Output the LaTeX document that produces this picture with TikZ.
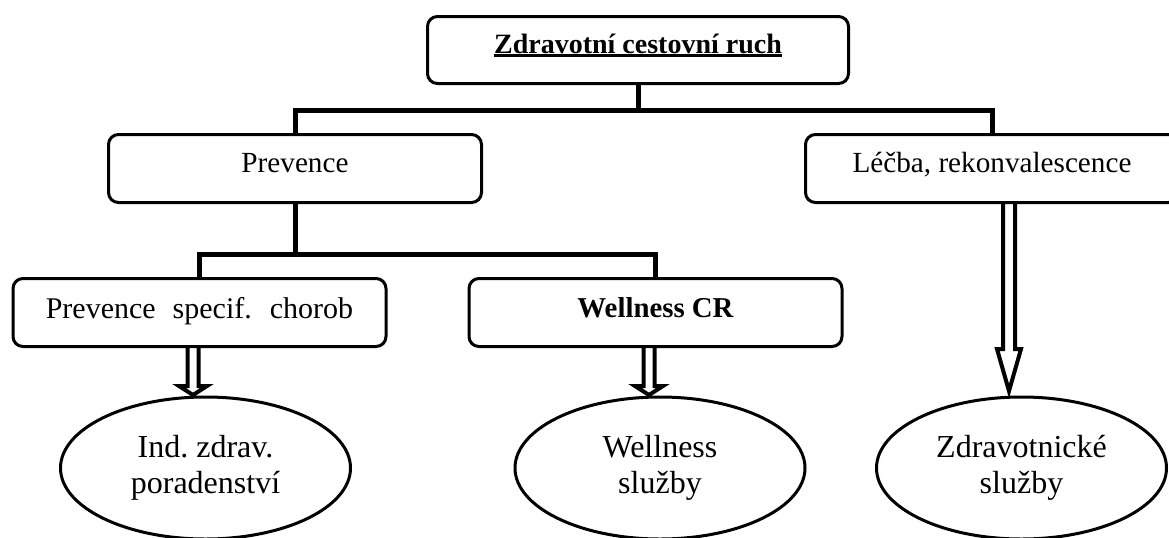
\documentclass[tikz,border=0pt]{standalone}
\usepackage{fontspec}
\setmainfont{Liberation Serif}
\usetikzlibrary{calc,shapes.geometric}
\frenchspacing
\newcommand{\ulbox}[1]{\setbox0\hbox{#1}\rlap{\raisebox{-1.9pt}{\rule{\wd0}{1.25pt}}}\box0}
\newcommand{\hollowarr}[5]{%
  \draw[blockarr] ($(#1)+(-#3,0)$) -- ($(#2)+(-#3,-#5)$) -- ($(#2)+(-#4,-#5)$) -- (#2)
    -- ($(#2)+(#4,-#5)$) -- ($(#2)+(#3,-#5)$) -- ($(#1)+(#3,0)$);}
\begin{document}
\begin{tikzpicture}[x=0.5pt,y=-0.5pt,
  rbox/.style={draw, line width=1.5pt, rounded corners=5pt, inner sep=0pt,
    minimum width=186.5pt, minimum height=34pt,
    font=\fontsize{16}{18}\selectfont},
  midtxt/.style={font=\fontsize{14.6}{17}\selectfont},
  boldtxt/.style={font=\fontsize{14.4}{16}\selectfont\bfseries},
  oval/.style={draw, ellipse, line width=1.5pt, inner sep=0pt, align=center,
    minimum width=145pt, minimum height=71pt,
    font=\fontsize{16}{18}\selectfont},
  conn/.style={line width=2.5pt, line join=miter},
  blockarr/.style={line width=2pt, line join=miter}]
\useasboundingbox (0,0) rectangle (1169,537);
\clip (0,0) rectangle (1169,537);

% boxes
\node[rbox, font=\fontsize{14}{16}\selectfont\bfseries, minimum width=210.5pt, minimum height=33.5pt,
      text height=10pt, text depth=7pt] (top) at (638,50) {\ulbox{Zdravotní cestovní ruch}};
\node[rbox, midtxt, text height=11pt, text depth=7pt] (prev) at (295,168.5) {Prevence};
\node[rbox, midtxt, text height=11pt, text depth=7pt] (lecba) at (992,168.5) {Léčba, rekonvalescence};
\node[rbox, font=\fontsize{15}{17}\selectfont, text height=11pt, text depth=5.5pt] (psc) at (199.5,312.5)
  {Prevence\hspace{8.5pt}specif.\hspace{9pt}chorob};
\node[rbox, boldtxt, text height=10pt, text depth=5pt] (wcr) at (655.5,312.5) {Wellness CR};

% ellipses
\node[oval] (ind) at (205.5,468) {Ind. zdrav.\\poradenství};
\node[oval] (wel) at (660,468) {Wellness\\služby};
\node[oval] (zdr) at (1021.5,468) {Zdravotnické\\služby};

% tree connectors
\coordinate (hub) at (638,110);
\coordinate (hub2) at (295,254);
\draw[conn] (top.south) -- (hub);
\draw[conn] (prev.north) |- (hub) -| (lecba.north);
\draw[conn] (prev.south) -- (hub2);
\draw[conn] (psc.north) |- (hub2) -| (wcr.north);

% hollow arrows
\coordinate (t1) at (193,395);
\coordinate (t2) at (649,395);
\coordinate (t3) at (1009,391);
\coordinate (s1) at (t1 |- psc.south);
\coordinate (s2) at (t2 |- wcr.south);
\coordinate (s3) at (t3 |- lecba.south);
\hollowarr{s1}{t1}{5.5}{14}{9}
\hollowarr{s2}{t2}{5.5}{14}{9}
\hollowarr{s3}{t3}{6}{12}{42}
\end{tikzpicture}
\end{document}
